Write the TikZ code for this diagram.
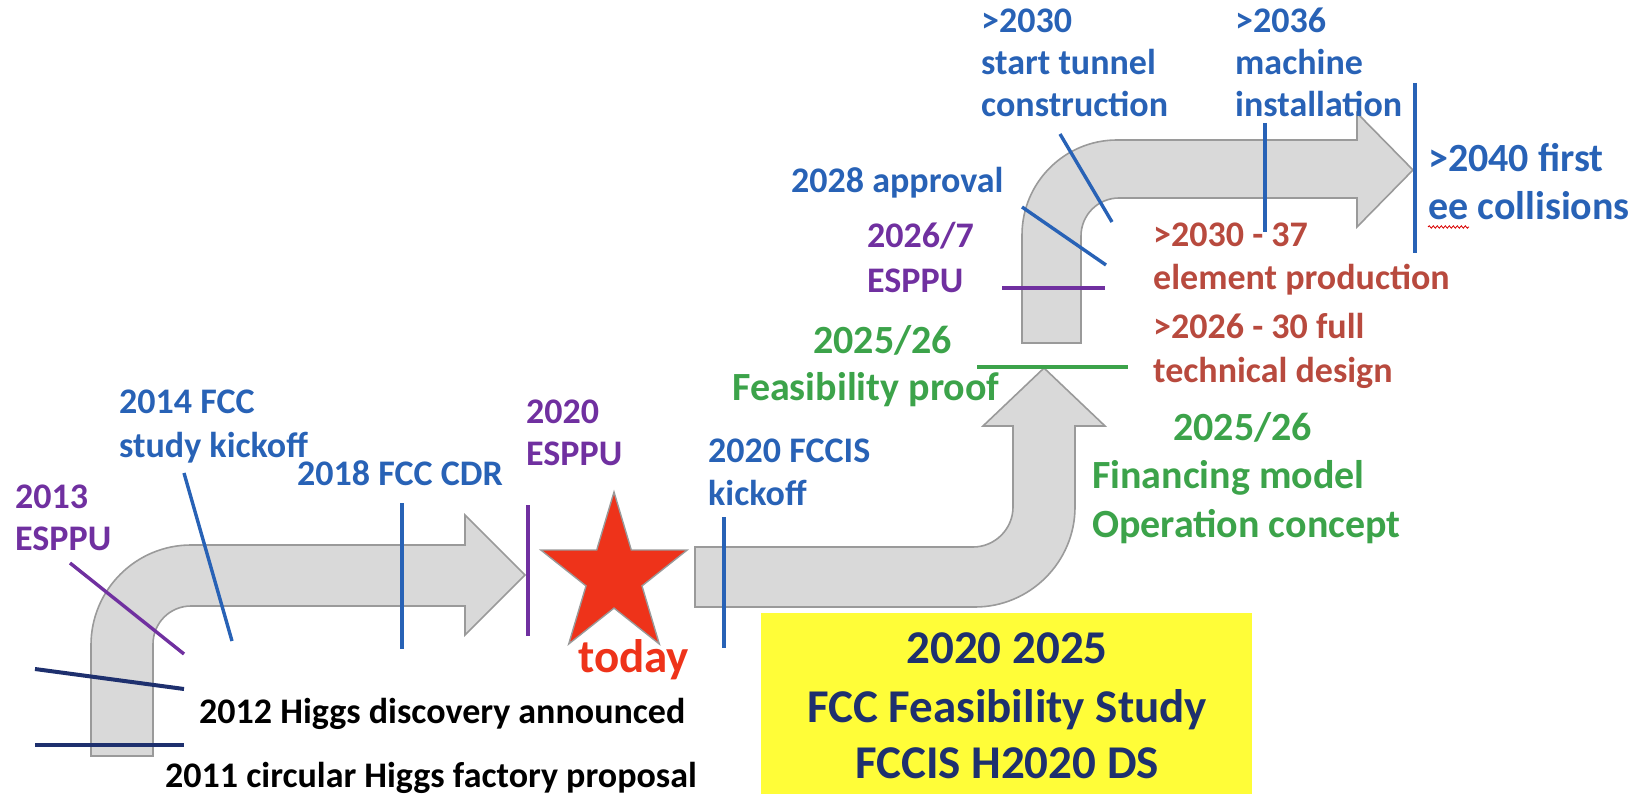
\documentclass[tikz,border=0pt]{standalone}
\usepackage{fontspec}
\setmainfont{Carlito}
\usetikzlibrary{decorations.pathmorphing}
\definecolor{blueT}{RGB}{40,98,182}
\definecolor{purpleT}{RGB}{112,48,160}
\definecolor{greenT}{RGB}{60,163,74}
\definecolor{brownT}{RGB}{184,74,62}
\definecolor{navyT}{RGB}{30,48,110}
\definecolor{redT}{RGB}{238,51,26}
\definecolor{arrowFill}{RGB}{217,217,217}
\definecolor{arrowLine}{RGB}{154,154,154}
\definecolor{boxYellow}{RGB}{255,253,56}
\tikzset{
  lbl/.style={inner sep=0pt, anchor=base west, font=\fontsize{36}{43}\selectfont\bfseries},
  lblbig/.style={inner sep=0pt, anchor=base west, font=\fontsize{40}{48}\selectfont\bfseries},
  boxtxt/.style={inner sep=0pt, anchor=base, text=navyT, font=\fontsize{47}{57}\selectfont\bfseries},
  bigarrow/.style={fill=arrowFill, draw=arrowLine, line width=1.6pt, line join=miter},
  tick/.style={line width=3.4pt},
}
\begin{document}
\begin{tikzpicture}[x=1pt,y=-1pt]
\useasboundingbox (0,0) rectangle (1648,794);
% ---------- arrows ----------
\path[bigarrow] (91,756) -- (91,645) .. controls (91,589.8) and (135.8,545) .. (191,545)
  -- (465,545) -- (465,515) -- (525,575) -- (465,635) -- (465,606) -- (191,606)
  .. controls (170,606) and (153,623) .. (153,644) -- (153,756) -- cycle;
\path[bigarrow] (695,547) -- (973,547) .. controls (995,547) and (1013,529) .. (1013,507)
  -- (1013,426) -- (983,426) -- (1044,368) -- (1105,426) -- (1075,426) -- (1075,507)
  .. controls (1075,562) and (1030,607) .. (975,607) -- (695,607) -- cycle;
\path[bigarrow] (1022,343) -- (1022,235) .. controls (1022,182.5) and (1064.5,140) .. (1117,140)
  -- (1357,140) -- (1357,113) -- (1413,170) -- (1357,227) -- (1357,198) -- (1119,198)
  .. controls (1098,198) and (1081,215) .. (1081,236) -- (1081,343) -- cycle;
% ---------- star ----------
\path[fill=redT, draw=arrowLine, line width=1.4pt, line join=miter]
  (614,492) -- (631.3,550) -- (687.2,550) -- (642,585.9) -- (659.3,644) -- (614,608.1)
  -- (568.7,644) -- (586,585.9) -- (540.8,550) -- (596.7,550) -- cycle;
% ---------- yellow box ----------
\node[fill=boxYellow, inner sep=0pt, minimum width=491pt, minimum height=181pt, anchor=north west] (box) at (761,613) {};
\node[boxtxt] (boxa) at (1007,663) {2020 2025};
\node[boxtxt] (boxb) at (1007,722) {FCC Feasibility Study};
\node[boxtxt] (boxc) at (1007,778) {FCCIS H2020 DS};
% ---------- tick coordinates ----------
\coordinate (p13a) at (70,563);   \coordinate (p13b) at (184,654);
\coordinate (b14a) at (184,473);  \coordinate (b14b) at (232,641);
\coordinate (b18a) at (402,503);  \coordinate (b18b) at (402,649);
\coordinate (n12a) at (35,669);   \coordinate (n12b) at (184,689);
\coordinate (n11a) at (35,745);   \coordinate (n11b) at (184,745);
\coordinate (p20a) at (528,505);  \coordinate (p20b) at (528,636);
\coordinate (bfia) at (724,517);  \coordinate (bfib) at (724,648);
\coordinate (gfea) at (977,367);  \coordinate (gfeb) at (1128,367);
\coordinate (p26a) at (1002,288); \coordinate (p26b) at (1105,288);
\coordinate (bapa) at (1022,207); \coordinate (bapb) at (1106,265);
\coordinate (btua) at (1060,134); \coordinate (btub) at (1112,222);
\coordinate (bina) at (1265,123); \coordinate (binb) at (1265,232);
\coordinate (b40a) at (1415,83);  \coordinate (b40b) at (1415,253);
\draw[tick, purpleT] (p13a) -- (p13b);
\draw[tick, blueT] (b14a) -- (b14b);
\draw[tick, blueT] (b18a) -- (b18b);
\draw[tick, navyT, line width=4pt] (n12a) -- (n12b);
\draw[tick, navyT, line width=4pt] (n11a) -- (n11b);
\draw[tick, purpleT] (p20a) -- (p20b);
\draw[tick, blueT] (bfia) -- (bfib);
\draw[tick, greenT, line width=4pt] (gfea) -- (gfeb);
\draw[tick, purpleT, line width=4pt] (p26a) -- (p26b);
\draw[tick, blueT] (bapa) -- (bapb);
\draw[tick, blueT] (btua) -- (btub);
\draw[tick, blueT] (bina) -- (binb);
\draw[tick, blueT] (b40a) -- (b40b);
% ---------- labels ----------
\node[lbl, text=purpleT] (t13a) at (15,508) {2013};
\node[lbl, text=purpleT] (t13b) at (15,550) {ESPPU};
\node[lbl, text=blueT] (t14a) at (119,413) {2014 FCC};
\node[lbl, text=blueT] (t14b) at (119,457) {study kickoff};
\node[lbl, text=blueT] (t18) at (297,485) {2018 FCC CDR};
\node[lbl, text=purpleT] (t20a) at (526,423) {2020};
\node[lbl, text=purpleT] (t20b) at (526,465) {ESPPU};
\node[inner sep=0pt, anchor=base west, text=redT, font=\fontsize{47}{57}\selectfont\bfseries] (today) at (578,672) {today};
\node[lbl, text=blueT] (tfia) at (708,462) {2020 FCCIS};
\node[lbl, text=blueT] (tfib) at (708,505) {kickoff};
\node[lblbig, text=greenT] (tfea) at (813,353) {2025/26};
\node[lblbig, text=greenT] (tfeb) at (732,400) {Feasibility proof};
\node[lblbig, text=greenT] (tfna) at (1173,440) {2025/26};
\node[lblbig, text=greenT] (tfnb) at (1092,488) {Financing model};
\node[lblbig, text=greenT] (tfnc) at (1092,537) {Operation concept};
\node[lbl, text=purpleT] (t26a) at (867,248) {2026/7};
\node[lbl, text=purpleT] (t26b) at (867,292) {ESPPU};
\node[lbl, text=blueT] (tap) at (791,193) {2028 approval};
\node[lbl, text=blueT] (ttua) at (981,33) {>2030};
\node[lbl, text=blueT] (ttub) at (981,75) {start tunnel};
\node[lbl, text=blueT] (ttuc) at (981,117) {construction};
\node[lbl, text=blueT] (tina) at (1235,33) {>2036};
\node[lbl, text=blueT] (tinb) at (1235,75) {machine};
\node[lbl, text=blueT] (tinc) at (1235,117) {installation};
\node[lblbig, text=blueT] (t40a) at (1428,172) {>2040 first};
\node[lblbig, text=blueT] (t40b) at (1428,220) {ee collisions};
\coordinate (sqa) at (1428,227); \coordinate (sqb) at (1469,227);
\draw[red!85!black, line width=0.8pt, decorate, decoration={snake, amplitude=1.2pt, segment length=4pt}] (sqa) -- (sqb);
\node[lbl, text=brownT] (tepa) at (1153,247) {>2030 - 37};
\node[lbl, text=brownT] (tepb) at (1153,290) {element production};
\node[lbl, text=brownT] (ttda) at (1153,338) {>2026 - 30 full};
\node[lbl, text=brownT] (ttdb) at (1153,382) {technical design};
\node[lbl, text=black] (t12) at (199,723) {2012 Higgs discovery announced};
\node[lbl, text=black] (t11) at (165,787) {2011 circular Higgs factory proposal};
\end{tikzpicture}
\end{document}
